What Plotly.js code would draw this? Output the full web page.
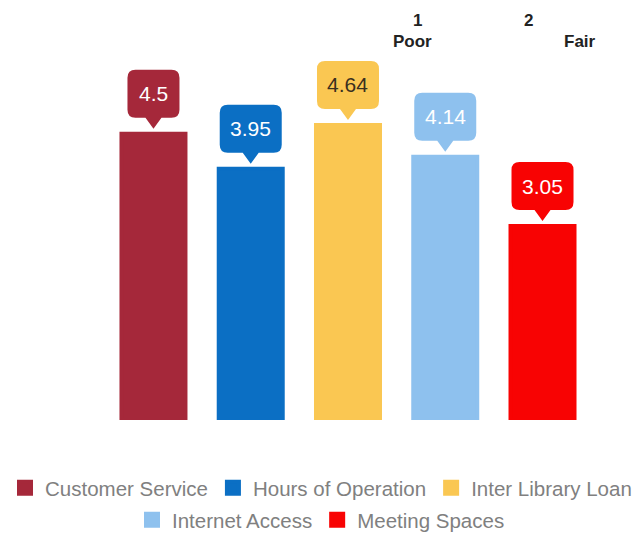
<!DOCTYPE html>
<html>
<head>
<meta charset="utf-8">
<script src="https://cdn.plot.ly/plotly-3.0.1.min.js"></script>
<style>html,body{margin:0;padding:0;background:#fff;}#chart{width:642px;height:533px;}</style>
</head>
<body>
<div id="chart"></div>
<script>
// ---- data ----
const categories = ['Customer Service', 'Hours of Operation', 'Inter Library Loan', 'Internet Access', 'Meeting Spaces'];
const values = [4.5, 3.95, 4.64, 4.14, 3.05];
const valueLabels = ['4.5', '3.95', '4.64', '4.14', '3.05'];
const legendGroups = ['legend', 'legend', 'legend', 'legend2', 'legend2'];
const topLabels = ['1', 'Poor', '2', 'Fair'];

// ---- styles ----
const colors = ['#a5283a', '#0b6fc4', '#fac752', '#8ec1ee', '#f80303'];
const labelColors = ['#ffffff', '#ffffff', '#3a3020', '#ffffff', '#ffffff'];
const FONT = '"Liberation Sans", Arial, sans-serif';
const LABEL_SIZE = 21;

const ctx = document.createElement('canvas').getContext('2d');
ctx.font = LABEL_SIZE + 'px "Liberation Sans"';

function calloutPath(hw) {
  const r = 8, b = 16, t = 64, tip = 5, pw = 8;
  return 'M' + (-hw + r) + ',' + b + ' L' + (-pw) + ',' + b + ' L0,' + tip + ' L' + pw + ',' + b +
    ' L' + (hw - r) + ',' + b + ' Q' + hw + ',' + b + ' ' + hw + ',' + (b + r) +
    ' L' + hw + ',' + (t - r) + ' Q' + hw + ',' + t + ' ' + (hw - r) + ',' + t +
    ' L' + (-hw + r) + ',' + t + ' Q' + (-hw) + ',' + t + ' ' + (-hw) + ',' + (t - r) +
    ' L' + (-hw) + ',' + (b + r) + ' Q' + (-hw) + ',' + b + ' ' + (-hw + r) + ',' + b + ' Z';
}

const traces = categories.map((c, i) => ({
  type: 'bar',
  name: c,
  x: [c],
  y: [values[i]],
  marker: { color: colors[i], line: { color: colors[i], width: 4 } },
  legend: legendGroups[i],
  hoverinfo: 'x+y'
}));

const shapes = categories.map((c, i) => {
  const hw = Math.round(ctx.measureText(valueLabels[i]).width / 2 + 11);
  return {
    type: 'path', xref: 'x', yref: 'y',
    xsizemode: 'pixel', ysizemode: 'pixel',
    xanchor: c, yanchor: values[i],
    path: calloutPath(hw),
    fillcolor: colors[i], line: { width: 0 }, layer: 'above'
  };
});

const annotations = categories.map((c, i) => ({
  x: c, y: values[i], xref: 'x', yref: 'y',
  text: valueLabels[i], showarrow: false, yshift: 40,
  xanchor: 'center', yanchor: 'middle',
  font: { family: FONT, size: LABEL_SIZE, color: labelColors[i] }
}));

// plot area spans x 0..642 and y 5..420 (px)
const topPos = [[417, 21], [412, 41], [528, 20], [580, 42]];
topLabels.forEach((t, i) => {
  annotations.push({
    x: topPos[i][0] / 642, y: (420 - topPos[i][1]) / 415, xref: 'paper', yref: 'paper',
    text: '<b>' + t + '</b>', showarrow: false, xanchor: 'center', yanchor: 'middle',
    font: { family: FONT, size: 17, color: '#222222' }
  });
});

const legendFont = { family: FONT, size: 20.5, color: '#808080' };
const layout = {
  width: 642, height: 533,
  margin: { l: 0, r: 0, t: 5, b: 113, pad: 0 },
  paper_bgcolor: '#ffffff', plot_bgcolor: '#ffffff',
  barmode: 'overlay', bargap: 0.342,
  font: { family: FONT },
  xaxis: {
    type: 'category', categoryorder: 'array', categoryarray: categories,
    range: [-1.578, 5.023], showgrid: false, zeroline: false, showline: false,
    showticklabels: false, ticks: '', fixedrange: true
  },
  yaxis: {
    range: [0, 6.525], showgrid: false, zeroline: false, showline: false,
    showticklabels: false, ticks: '', fixedrange: true
  },
  showlegend: true,
  legend: {
    orientation: 'h', x: 0.5, xanchor: 'center', xref: 'paper',
    y: 1 - 488 / 533, yanchor: 'middle', yref: 'container',
    font: legendFont, bgcolor: 'rgba(0,0,0,0)', itemclick: false, itemdoubleclick: false
  },
  legend2: {
    orientation: 'h', x: 0.5, xanchor: 'center', xref: 'paper',
    y: 1 - 520 / 533, yanchor: 'middle', yref: 'container',
    font: legendFont, bgcolor: 'rgba(0,0,0,0)', itemclick: false, itemdoubleclick: false
  },
  shapes: shapes,
  annotations: annotations
};

Plotly.newPlot('chart', traces, layout, { displayModeBar: false, staticPlot: false });
</script>
</body>
</html>
